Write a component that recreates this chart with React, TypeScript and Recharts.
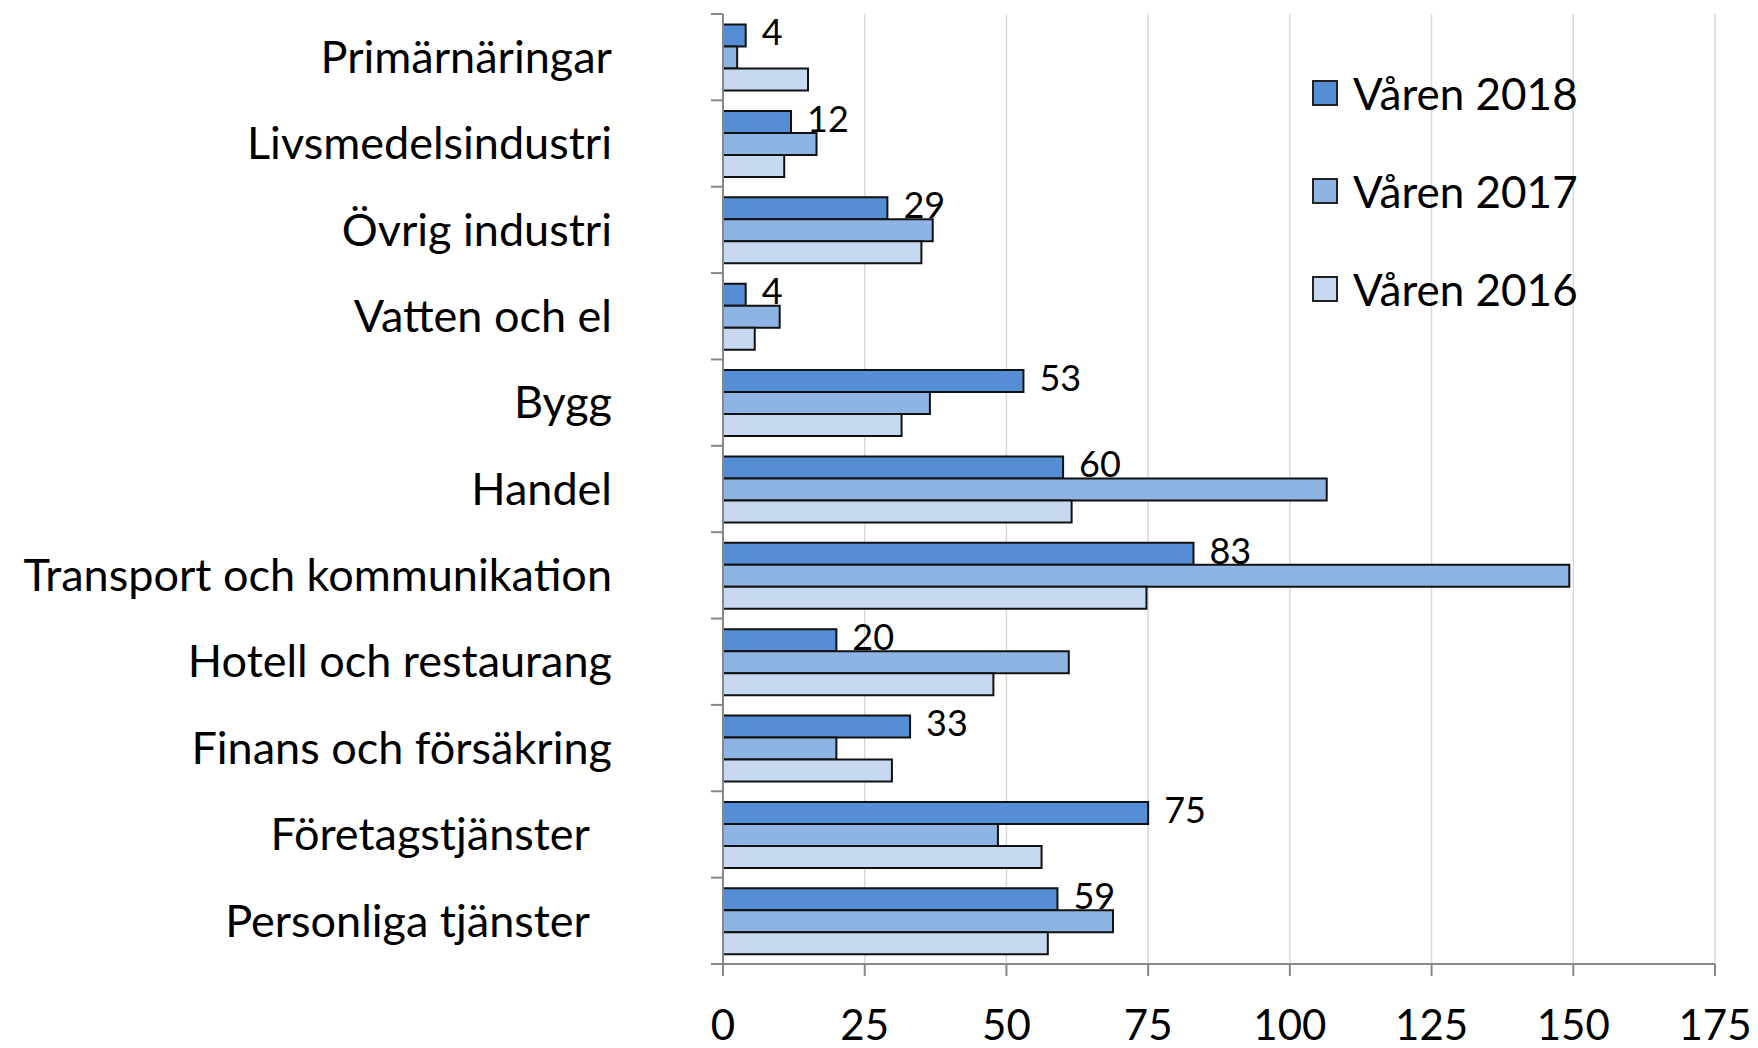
import React from 'react';
import {
  BarChart, Bar, XAxis, YAxis, CartesianGrid, Legend, LabelList,
} from 'recharts';

const categories = [
  'Primärnäringar',
  'Livsmedelsindustri',
  'Övrig industri',
  'Vatten och el',
  'Bygg',
  'Handel',
  'Transport och kommunikation',
  'Hotell och restaurang',
  'Finans och försäkring',
  'Företagstjänster\u00a0\u00a0',
  'Personliga tjänster\u00a0\u00a0',
];

const varen2018 = [4, 12, 29, 4, 53, 60, 83, 20, 33, 75, 59];
const varen2017 = [2.5, 16.5, 37, 10, 36.5, 106.5, 149.3, 61, 20, 48.5, 68.8];
const varen2016 = [15, 10.8, 35, 5.6, 31.5, 61.5, 74.7, 47.7, 29.8, 56.2, 57.3];

const xTicks = [0, 25, 50, 75, 100, 125, 150, 175];

const seriesInfo = [
  { key: 'v2018', name: 'Våren 2018', color: '#558ED5' },
  { key: 'v2017', name: 'Våren 2017', color: '#8EB4E3' },
  { key: 'v2016', name: 'Våren 2016', color: '#C6D9F1' },
];

const data = categories.map((name, i) => ({
  name,
  v2018: varen2018[i],
  v2017: varen2017[i],
  v2016: varen2016[i],
}));

const W = 1758;
const H = 1048;
const TOP = 14;
const AXIS_X = 723;
const RIGHT = 43;
const BOTTOM = 84;
const BAND = (H - TOP - BOTTOM) / categories.length;
const FONT = 'Lato, "Open Sans", sans-serif';

const CategoryTick = (props: any) => {
  const { y, payload, index } = props;
  const top = y - BAND / 2;
  return (
    <g>
      <line x1={AXIS_X - 12} x2={AXIS_X} y1={top} y2={top} stroke="#888" strokeWidth={2} />
      {index === categories.length - 1 && (
        <line x1={AXIS_X - 12} x2={AXIS_X} y1={top + BAND} y2={top + BAND} stroke="#888" strokeWidth={2} />
      )}
      <text
        x={612}
        y={y}
        dy="0.35em"
        textAnchor="end"
        fontSize={45}
        fontFamily={FONT}
        fill="#000"
        style={{ whiteSpace: 'pre' }}
      >
        {payload.value}
      </text>
    </g>
  );
};

const LegendBox = () => (
  <div style={{ fontFamily: FONT, fontSize: 44, color: '#000' }}>
    {seriesInfo.map((s) => (
      <div key={s.key} style={{ display: 'flex', alignItems: 'center', height: 98 }}>
        <span
          style={{
            display: 'inline-block',
            width: 22,
            height: 22,
            background: s.color,
            border: '2px solid #222',
            marginRight: 15,
          }}
        />
        <span>{s.name}</span>
      </div>
    ))}
  </div>
);

export default function App() {
  return (
    <div style={{ position: 'absolute', left: 0, top: 0, width: W, height: H, background: '#fff' }}>
      <BarChart
        width={W}
        height={H}
        data={data}
        layout="vertical"
        margin={{ top: TOP, right: RIGHT, left: 0, bottom: 0 }}
        barCategoryGap="12.3%"
        barGap={0}
      >
        <CartesianGrid horizontal={false} stroke="#d9d9d9" strokeWidth={1.5} />
        <XAxis
          type="number"
          domain={[0, 175]}
          ticks={xTicks}
          height={BOTTOM}
          axisLine={{ stroke: '#888', strokeWidth: 2 }}
          tickLine={{ stroke: '#888', strokeWidth: 2 }}
          tickSize={12}
          tickMargin={34}
          tick={{ fontSize: 42, fill: '#000', fontFamily: FONT }}
          interval={0}
        />
        <XAxis
          xAxisId="top"
          orientation="top"
          type="number"
          domain={[0, 175]}
          height={0}
          tick={false}
          tickLine={false}
          axisLine={{ stroke: '#222', strokeWidth: 1.5 }}
        />
        <YAxis
          type="category"
          dataKey="name"
          width={AXIS_X}
          axisLine={{ stroke: '#888', strokeWidth: 2 }}
          tickLine={false}
          tick={<CategoryTick />}
          interval={0}
        />
        <YAxis
          yAxisId="right"
          orientation="right"
          type="category"
          dataKey="name"
          width={0}
          tick={false}
          tickLine={false}
          axisLine={{ stroke: '#444', strokeWidth: 1.5 }}
        />
        <Legend
          layout="horizontal"
          verticalAlign="middle"
          align="center"
          content={() => <LegendBox />}
          wrapperStyle={{ position: 'absolute', left: 1312, top: 44, width: 340 }}
        />
        {seriesInfo.map((s) => (
          <Bar
            key={s.key}
            dataKey={s.key}
            name={s.name}
            fill={s.color}
            stroke="#111"
            strokeWidth={2}
            isAnimationActive={false}
          >
            {s.key === 'v2018' && (
              <LabelList
                dataKey={s.key}
                position="right"
                offset={16}
                fontSize={36}
                fill="#000"
                fontFamily={FONT}
                dy={-3}
              />
            )}
          </Bar>
        ))}
      </BarChart>
    </div>
  );
}
